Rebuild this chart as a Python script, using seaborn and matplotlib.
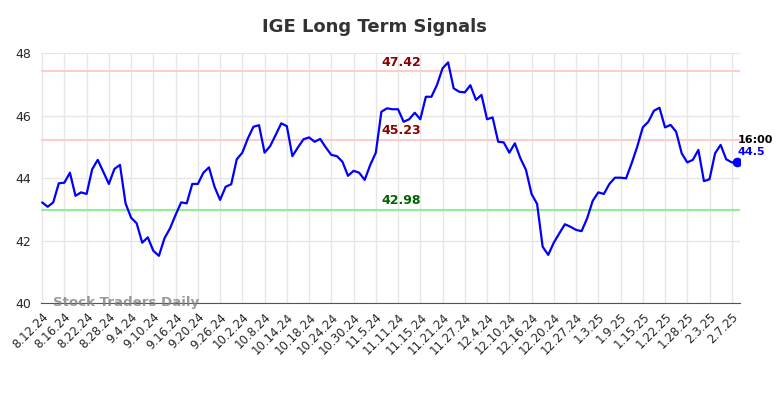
"""
IGE long term signals chart
"""

import numpy as np
import pandas as pd
import matplotlib
matplotlib.use("Agg")
import matplotlib.pyplot as plt
import seaborn as sns

# closing prices, one per trading day (8.12.24 -> 2.10.25)
prices = [
    43.22, 43.08, 43.22, 43.83, 43.85, 44.17, 43.43, 43.54, 43.49, 44.28,
    44.58, 44.20, 43.81, 44.29, 44.42, 43.19, 42.73, 42.55, 41.93, 42.10,
    41.67, 41.51, 42.07, 42.39, 42.82, 43.22, 43.19, 43.81, 43.81, 44.17,
    44.34, 43.72, 43.30, 43.72, 43.80, 44.60, 44.81, 45.27, 45.64, 45.69,
    44.81, 45.02, 45.38, 45.75, 45.66, 44.70, 44.98, 45.24, 45.30, 45.16,
    45.25, 44.98, 44.74, 44.70, 44.52, 44.07, 44.23, 44.17, 43.94, 44.42,
    44.81, 46.12, 46.23, 46.20, 46.20, 45.80, 45.88, 46.09, 45.88, 46.60,
    46.60, 46.98, 47.51, 47.70, 46.87, 46.76, 46.74, 46.97, 46.50, 46.66,
    45.88, 45.94, 45.16, 45.14, 44.81, 45.11, 44.63, 44.26, 43.49, 43.17,
    41.80, 41.54, 41.93, 42.23, 42.52, 42.44, 42.34, 42.30, 42.71, 43.27,
    43.54, 43.49, 43.81, 44.01, 44.01, 43.99, 44.47, 45.00, 45.62, 45.80,
    46.15, 46.25, 45.62, 45.70, 45.48, 44.79, 44.50, 44.58, 44.90, 43.90,
    43.96, 44.79, 45.06, 44.60, 44.50, 44.50,
]

tick_labels = [
    "8.12.24", "8.16.24", "8.22.24", "8.28.24", "9.4.24", "9.10.24",
    "9.16.24", "9.20.24", "9.26.24", "10.2.24", "10.8.24", "10.14.24",
    "10.18.24", "10.24.24", "10.30.24", "11.5.24", "11.11.24", "11.15.24",
    "11.21.24", "11.27.24", "12.4.24", "12.10.24", "12.16.24", "12.20.24",
    "12.27.24", "1.3.25", "1.9.25", "1.15.25", "1.22.25", "1.28.25",
    "2.3.25", "2.7.25",
]
tick_step = 4

upper_levels = [47.42, 45.23]
lower_level = 42.98
last_time = "16:00"

df = pd.DataFrame({"day": np.arange(len(prices)), "price": prices})

sns.set_style("whitegrid")
plt.rcParams["font.family"] = ["DejaVu Sans"]

fig = plt.figure(figsize=(7.84, 3.98), dpi=100)
ax = fig.add_axes([0.0523, 0.2387, 0.8917, 0.6281])

for lvl in upper_levels:
    ax.axhline(lvl, color="#ffcccc", linewidth=1.5, zorder=1)
ax.axhline(lower_level, color="#90ee90", linewidth=1.5, zorder=1)

sns.lineplot(data=df, x="day", y="price", color="blue", linewidth=1.6, ax=ax, zorder=3)

# level labels sit a bit left of the middle of the range
mid = 64.5
for lvl in upper_levels:
    ax.text(mid, lvl + 0.08, f"{lvl:.2f}", color="darkred", fontsize=9,
            fontweight="bold", ha="center", va="bottom")
ax.text(mid, lower_level + 0.08, f"{lower_level:.2f}", color="darkgreen", fontsize=9,
        fontweight="bold", ha="center", va="bottom")

last_x = df["day"].iloc[-1]
last_y = df["price"].iloc[-1]
ax.scatter([last_x], [last_y], color="blue", s=35, zorder=4)
ax.text(last_x, last_y + 0.55, last_time, color="black", fontsize=8,
        fontweight="bold", ha="left", va="bottom")
ax.text(last_x, last_y + 0.18, f"{last_y:g}", color="blue", fontsize=8,
        fontweight="bold", ha="left", va="bottom")

ax.text(2, 40.0, "Stock Traders Daily", color="gray", alpha=0.8, fontsize=9.6,
        fontweight="bold", ha="left", va="center")

ax.set_xlim(-0.2, 125.5)
ax.set_ylim(40, 48)
ax.set_yticks([40, 42, 44, 46, 48])
ax.set_xticks(np.arange(len(tick_labels)) * tick_step)
ax.set_xticklabels(tick_labels, rotation=45, ha="right", rotation_mode="anchor")
ax.tick_params(axis="x", labelsize=8.5, pad=2)
ax.tick_params(axis="y", labelsize=9)
ax.set_xlabel("")
ax.set_ylabel("")
ax.grid(True, color="#e6e6e6", linewidth=1)

for side in ["left", "right", "top"]:
    ax.spines[side].set_visible(False)
ax.spines["bottom"].set_color("#555555")

fig.suptitle("IGE Long Term Signals", x=0.478, y=0.955, fontsize=13,
             fontweight="bold", color="#333333")

fig.savefig("out.png", dpi=100)
